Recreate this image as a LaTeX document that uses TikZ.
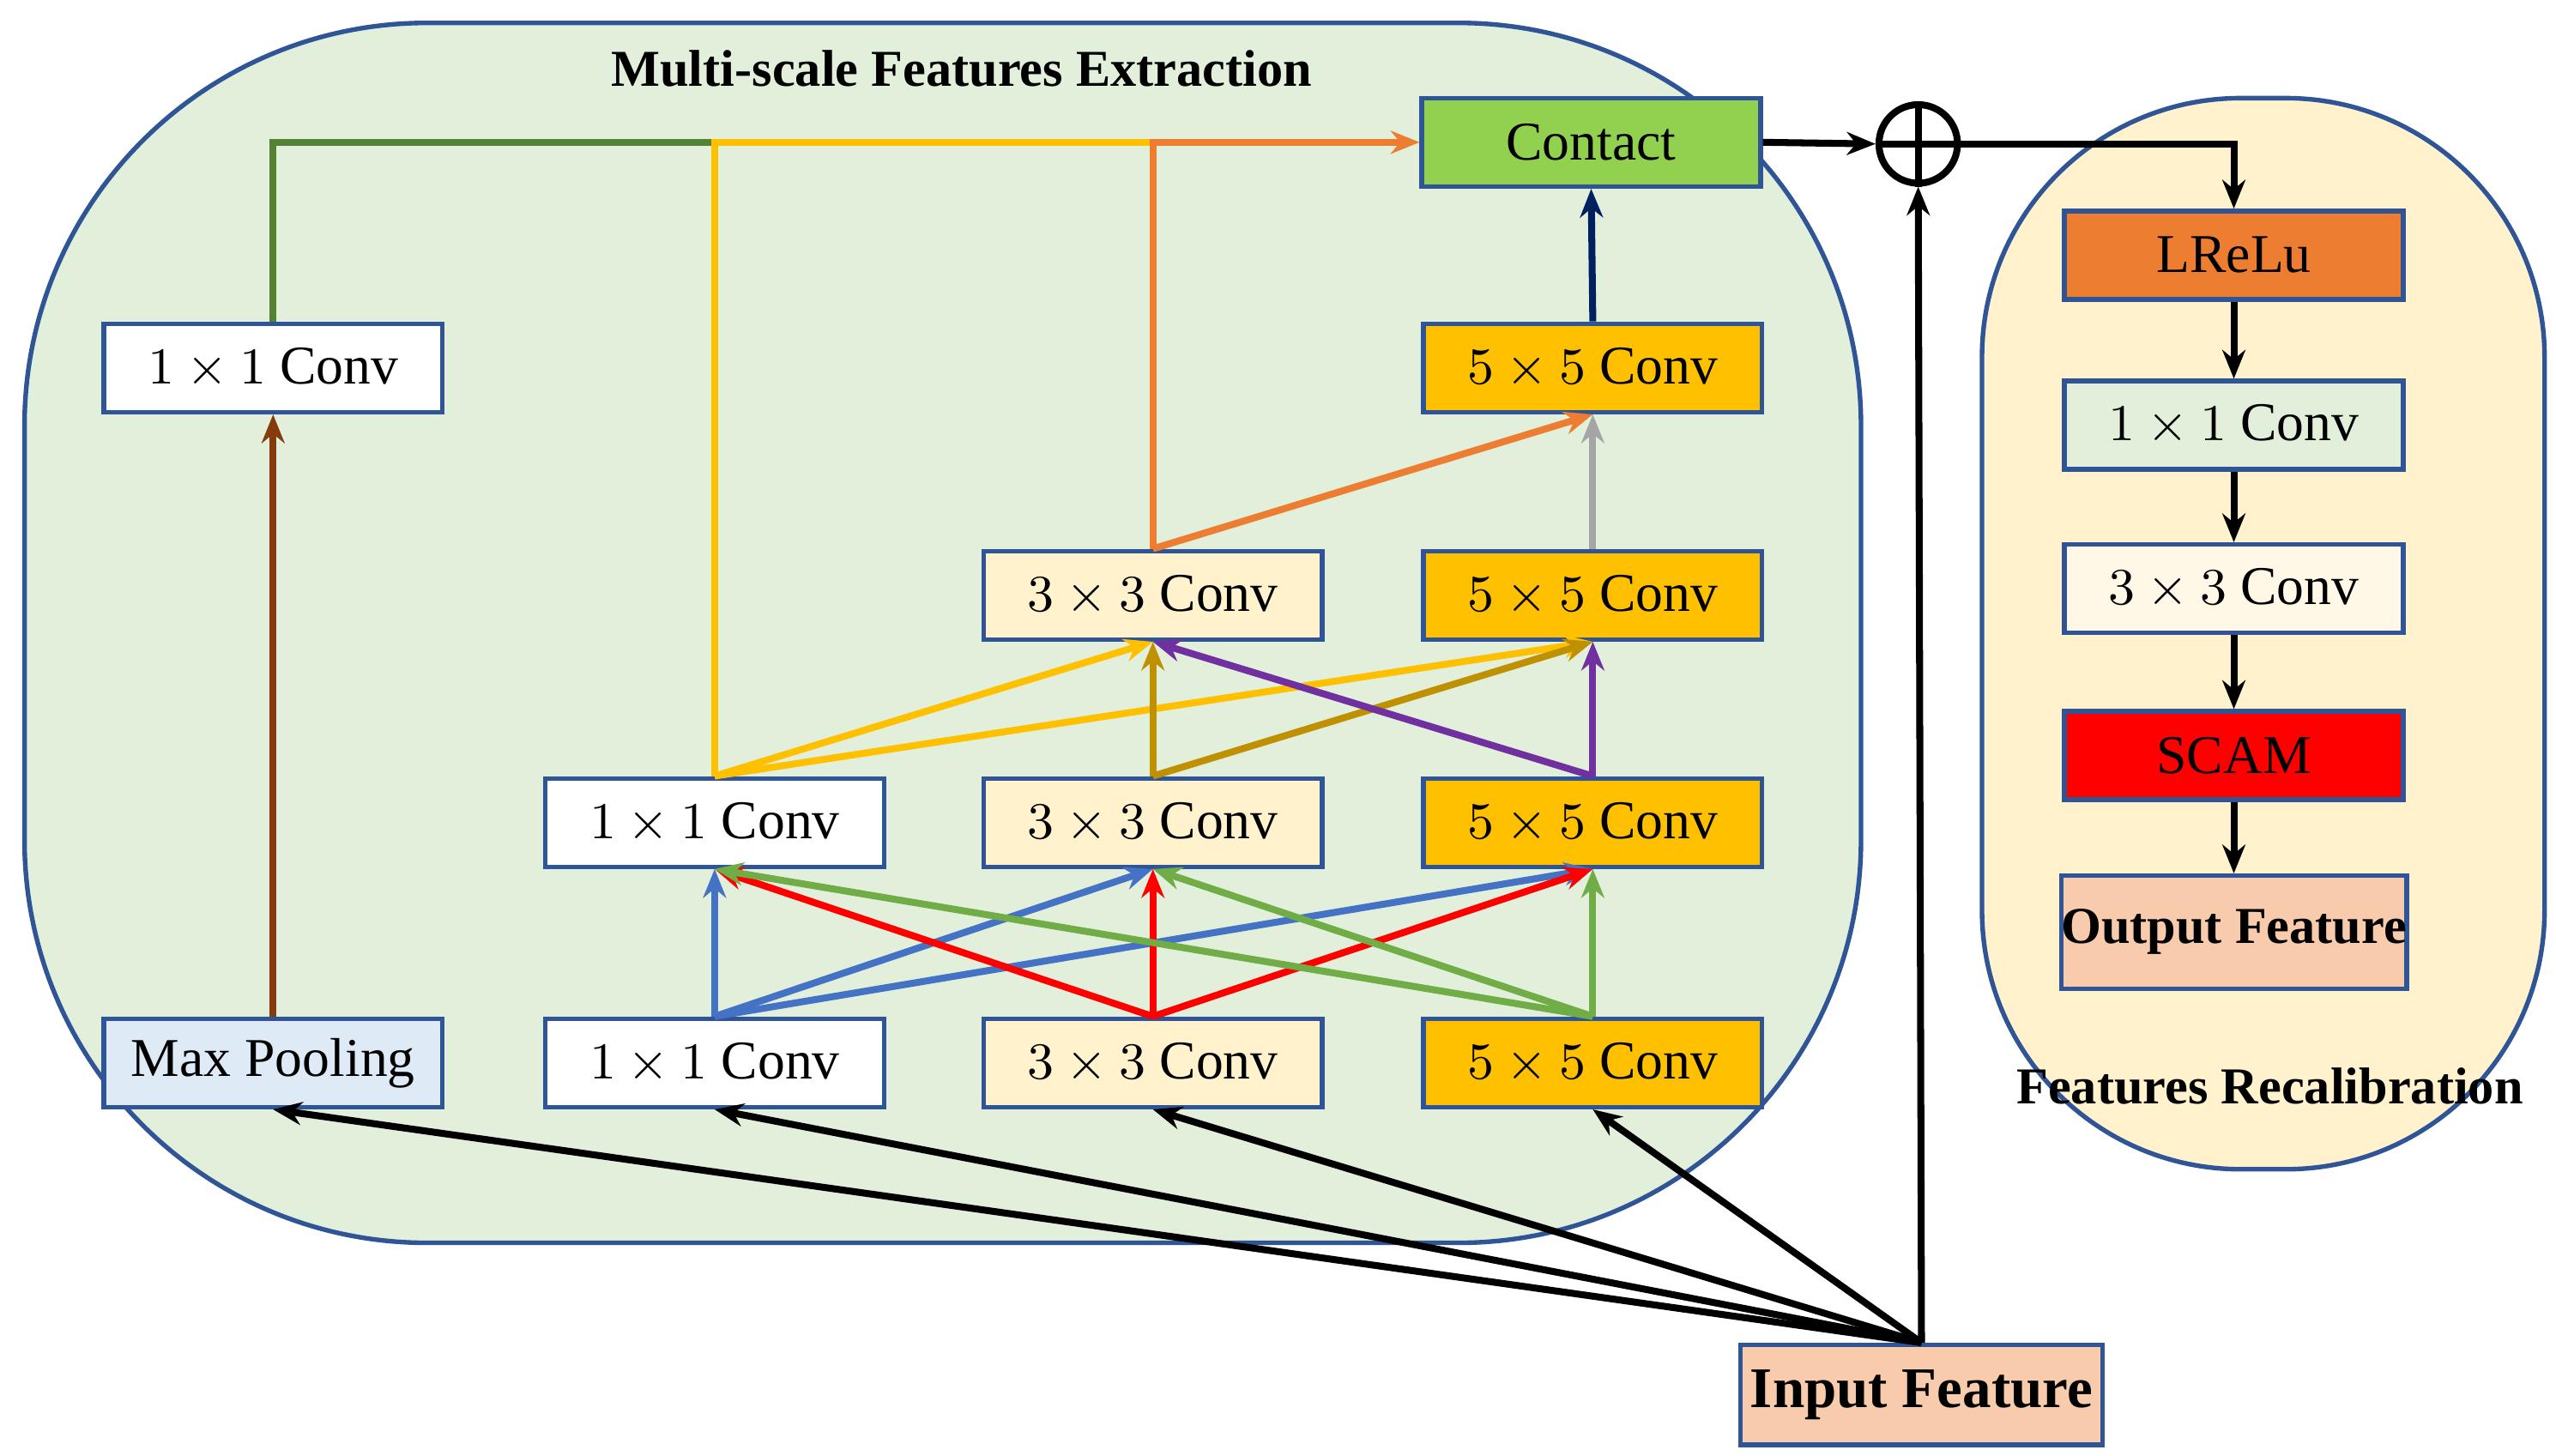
\documentclass[tikz,border=0pt]{standalone}
\usepackage{fontspec}
\setmainfont{Liberation Serif}
\usetikzlibrary{arrows.meta}
\definecolor{bgG}{HTML}{E2EFDA}
\definecolor{bgY}{HTML}{FFF2CC}
\definecolor{bdB}{HTML}{2F5597}
\definecolor{cG}{HTML}{92D050}
\definecolor{cO}{HTML}{FFC000}
\definecolor{cLR}{HTML}{ED7D31}
\definecolor{cMP}{HTML}{DEEBF7}
\definecolor{cIF}{HTML}{F8CBAD}
\definecolor{aBrown}{HTML}{843C0C}
\definecolor{aDG}{HTML}{548235}
\definecolor{aY}{HTML}{FFC000}
\definecolor{aOr}{HTML}{ED7D31}
\definecolor{aNavy}{HTML}{002060}
\definecolor{aGray}{HTML}{A5A5A5}
\definecolor{aOl}{HTML}{BF9000}
\definecolor{aPu}{HTML}{7030A0}
\definecolor{aBl}{HTML}{4472C4}
\definecolor{aGr}{HTML}{70AD47}
\begin{document}
\begin{tikzpicture}[x=0.01cm,y=-0.01cm,
  box/.style={draw=bdB,line width=0.8pt,minimum width=2.07cm,minimum height=0.54cm,inner sep=0pt,font=\fontsize{9.5}{11}\selectfont},
  ar/.style={line width=1.2pt,-{Stealth[length=5pt,width=4pt]}}]
\useasboundingbox (0,0) rectangle (1563,890);
\fill[white] (0,0) rectangle (1563,890);
\draw[bdB,fill=bgG,line width=0.8pt,rounded corners=70] (15,14) rectangle (1138,760);
\draw[bdB,fill=bgY,line width=0.8pt,rounded corners=45] (1212,60) rectangle (1556,715);
\node[font=\bfseries\fontsize{9}{11}\selectfont] (t1) at (588,42) {Multi-scale Features Extraction};
\node[font=\bfseries\fontsize{9}{11}\selectfont] (t2) at (1388,664) {Features Recalibration};
% nodes
\node[box,fill=cG] (ct) at (973,87) {Contact};
\node[draw,circle,line width=1.2pt,minimum size=0.48cm,inner sep=0pt] (op) at (1173,88) {};
\draw[line width=1.2pt] (op.north)--(op.south) (op.west)--(op.east);
\node[box,fill=white] (a1) at (167,225) {$1\times1$ Conv};
\node[box,fill=cMP] (mp) at (167,650) {Max Pooling};
\node[box,fill=white] (b3) at (437,503) {$1\times1$ Conv};
\node[box,fill=white] (b4) at (437,650) {$1\times1$ Conv};
\node[box,fill=bgY] (c2) at (705,364) {$3\times3$ Conv};
\node[box,fill=bgY] (c3) at (705,503) {$3\times3$ Conv};
\node[box,fill=bgY] (c4) at (705,650) {$3\times3$ Conv};
\node[box,fill=cO] (d1) at (974,225) {$5\times5$ Conv};
\node[box,fill=cO] (d2) at (974,364) {$5\times5$ Conv};
\node[box,fill=cO] (d3) at (974,503) {$5\times5$ Conv};
\node[box,fill=cO] (d4) at (974,650) {$5\times5$ Conv};
\node[box,fill=cLR] (r1) at (1366,156) {LReLu};
\node[box,fill=bgG] (r2) at (1366,260) {$1\times1$ Conv};
\node[box,fill=bgY!50!white] (r3) at (1366,360) {$3\times3$ Conv};
\node[box,fill=red] (r4) at (1366,462) {SCAM};
\node[box,fill=cIF,minimum height=0.69cm,font=\bfseries\fontsize{9}{11}\selectfont] (r5) at (1366,570) {Output Feature};
\node[box,fill=cIF,minimum width=2.21cm,minimum height=0.61cm,font=\bfseries\fontsize{10}{12}\selectfont] (in) at (1175,853) {Input Feature};
% input arrows
\foreach \t in {mp,b4,c4,d4} \draw[ar] (in.north)--(\t.south);
\draw[ar] (in.north)--(op.south);
% left path
\draw[ar,aBrown] (mp.north)--(a1.south);
\draw[line width=1.2pt,aDG] (a1.north)--(a1.north|-ct.west)--(b3.north|-ct.west);
\draw[line width=1.2pt,aY] (b3.north)--(b3.north|-ct.west)--(c2.north|-ct.west);
\draw[ar,aOr] (c2.north)--(c2.north|-ct.west)--(ct.west);
\draw[ar] (ct.east)--(op.west);
\draw[ar] (op.east)-|(r1.north);
\draw[ar] (r1)--(r2); \draw[ar] (r2)--(r3); \draw[ar] (r3)--(r4); \draw[ar] (r4)--(r5);
% column 4
\draw[ar,aNavy] (d1.north)--(ct.south);
\draw[ar,aGray] (d2.north)--(d1.south);
\draw[ar,aOr] (c2.north)--(d1.south);
% row3 -> row2
\draw[ar,aY] (b3.north)--(c2.south);
\draw[ar,aY] (b3.north)--(d2.south);
\draw[ar,aOl] (c3.north)--(c2.south);
\draw[ar,aOl] (c3.north)--(d2.south);
\draw[ar,aPu] (d3.north)--(c2.south);
\draw[ar,aPu] (d3.north)--(d2.south);
% row4 -> row3
\foreach \t in {b3,c3,d3} \draw[ar,aBl] (b4.north)--(\t.south);
\foreach \t in {b3,c3,d3} \draw[ar,red] (c4.north)--(\t.south);
\foreach \t in {b3,c3,d3} \draw[ar,aGr] (d4.north)--(\t.south);
\end{tikzpicture}
\end{document}
